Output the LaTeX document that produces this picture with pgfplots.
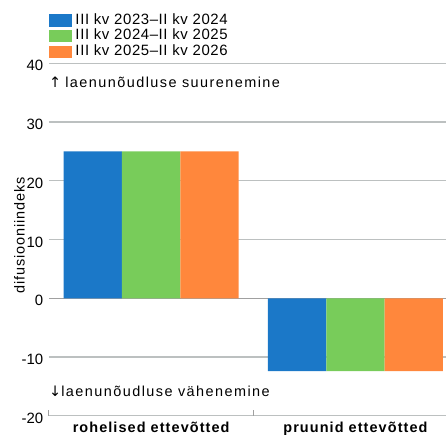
\documentclass[border=0pt]{standalone}
\usepackage{fontspec}
\setmainfont{Liberation Sans}
\newfontfamily\annfont{Liberation Sans}[LetterSpace=10]
\newfontfamily\legfont{Liberation Sans}[LetterSpace=4]
\newfontfamily\catfont{Liberation Sans}[LetterSpace=7.5]
\newfontfamily\ylabfont{Liberation Sans}[LetterSpace=6]
\newfontfamily\arrowfont{DejaVu Sans}
\usepackage{pgfplots}
\pgfplotsset{compat=1.18}
\definecolor{cblue}{RGB}{27,120,200}
\definecolor{cgreen}{RGB}{120,204,90}
\definecolor{corange}{RGB}{255,135,60}
\definecolor{gridc}{RGB}{188,192,192}
\definecolor{zeroc}{RGB}{160,160,160}
\begin{document}
\fontsize{14.5}{17}\selectfont
\begin{tikzpicture}
\begin{axis}[
  name=ax,
  scale only axis,
  width=397bp, height=352.5bp,
  xmin=-0.5, xmax=1.4433,
  ymin=-20, ymax=40,
  enlargelimits=false,
  axis line style={draw=none},
  ybar=0pt, bar width=58.3bp,
  xtick={0,1},
  xticklabels={rohelised ettevõtted, pruunid ettevõtted},
  minor xtick={-0.5,0.5},
  xtick pos=bottom, ytick pos=left,
  major tick length=0pt,
  minor tick length=6bp,
  tick align=inside,
  minor tick style={draw=zeroc, line width=1bp},
  ytick={-20,-10,10,20,30,40},
  yticklabels={-20,-10,10,20,30,40},
  extra y ticks={0},
  extra y tick labels={0},
  extra y tick style={grid style={draw=zeroc, line width=1.3bp}},
  ymajorgrids,
  grid style={draw=gridc, line width=1.3bp},
  yticklabel style={inner sep=0pt, xshift=-5.5bp, yshift=-2.5bp, font=\fontsize{15}{18}\selectfont},
  xticklabel style={inner sep=0pt, yshift=-6bp, font=\catfont\bfseries},
  ylabel={difusiooniindeks},
  ylabel style={at={(axis description cs:0,0.5)}, anchor=center, xshift=4bp, yshift=29.5bp, font=\ylabfont},
  legend style={draw=none, fill=none, at={(0,1)}, anchor=south west, xshift=0bp, yshift=4bp,
    inner sep=0pt, outer sep=0pt, row sep=1.3bp,
    font=\legfont\fontsize{15}{18}\selectfont,
    nodes={inner xsep=3.5bp, inner ysep=0pt, text height=11bp, text depth=3.5bp},
    /tikz/every even column/.append style={column sep=0bp}},
  legend cell align=left,
  legend image code/.code={\fill[#1] (0bp,-6.25bp) rectangle (23bp,6.25bp);},
]
\addplot[fill=cblue, draw=none] coordinates {(0,25) (1,-12.4)};
\addplot[fill=cgreen, draw=none] coordinates {(0,25) (1,-12.4)};
\addplot[fill=corange, draw=none] coordinates {(0,25) (1,-12.4)};
\legend{III kv 2023–II kv 2024, III kv 2024–II kv 2025, III kv 2025–II kv 2026}
\node[anchor=west, inner sep=0pt, xshift=0bp] at (axis cs:-0.5,36.7) {{\arrowfont ↑} \annfont laenunõudluse suurenemine};
\node[anchor=west, inner sep=0pt, xshift=0bp] at (axis cs:-0.5,-15.8) {{\arrowfont ↓}\annfont laenunõudluse vähenemine};
\end{axis}
\pgfresetboundingbox
\path[use as bounding box] ([xshift=-49bp,yshift=-22.2bp]ax.south west) rectangle ([yshift=63.3bp]ax.north east);
\end{tikzpicture}
\end{document}
